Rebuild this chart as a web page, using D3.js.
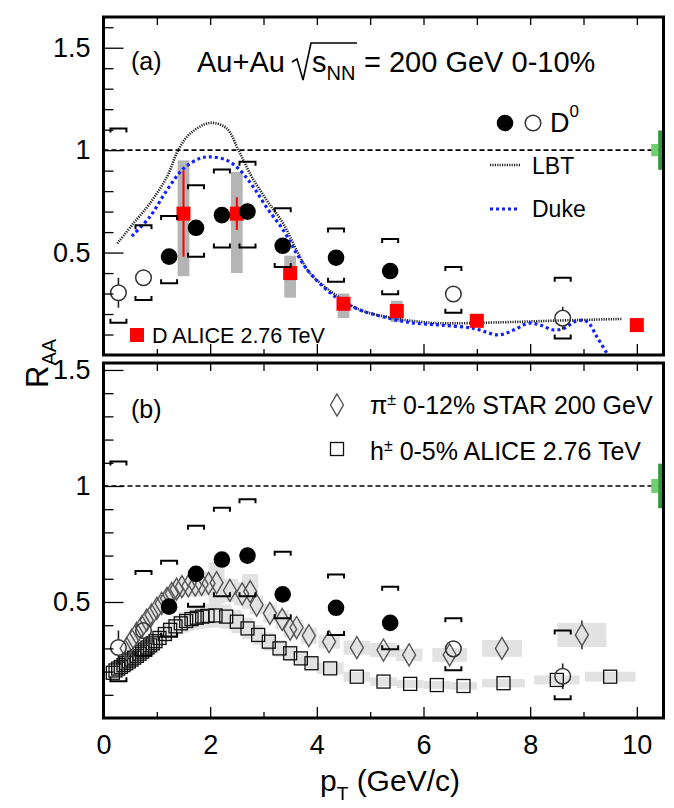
<!DOCTYPE html>
<html>
<head>
<meta charset="utf-8">
<script src="https://cdn.jsdelivr.net/npm/d3@7"></script>
<style>
  body { margin: 0; background: #fff; }
  text { font-family: "Liberation Sans", Arial, sans-serif; fill: #000; }
</style>
</head>
<body>
<script>
// ---- data ----
// STAR D0, Au+Au 200 GeV 0-10%
var d0Pt    = [0.28, 0.75, 1.23, 1.735, 2.22, 2.70, 3.36, 4.36, 5.375, 6.56, 8.61];
var d0R     = [0.304, 0.377, 0.48, 0.621, 0.683, 0.70, 0.533, 0.475, 0.41, 0.298, 0.18];
var d0Stat  = [0.073, 0.02, 0.02, 0.02, 0.02, 0.02, 0.02, 0.02, 0.02, 0.03, 0.055];
var d0SysHi = [1.106, 0.634, 0.678, 0.829, 0.906, 0.943, 0.716, 0.618, 0.566, 0.43, 0.377];
var d0SysLo = [0.158, 0.268, 0.35, 0.48, 0.525, 0.525, 0.43, 0.358, 0.296, 0.206, 0.081];
var d0Open  = [true, true, false, false, false, false, false, false, false, true, true];

// ALICE D mesons 2.76 TeV
var aliceDPt    = [1.5, 2.5, 3.5, 4.5, 5.5, 7.0, 10.0];
var aliceDR     = [0.69, 0.69, 0.40, 0.25, 0.215, 0.167, 0.146];
var aliceDStat  = [0.21, 0.08, 0.03, 0.02, 0.02, 0.02, 0.02];
var aliceDSysLo = [0.385, 0.40, 0.28, 0.18, 0.16, 0.14, 0.125];
var aliceDSysHi = [0.95, 0.894, 0.485, 0.30, 0.265, 0.19, 0.165];

// model curves
var lbtPt  = [0.26, 0.56, 0.87, 1.19, 1.40, 1.62, 2.0, 2.31, 2.53, 2.78, 3.06, 3.37, 3.62, 3.87, 4.37, 4.81, 5.44, 5.94, 6.31, 7.5, 8.5, 9.72];
var lbtR   = [0.545, 0.642, 0.74, 0.87, 1.0, 1.08, 1.133, 1.106, 1.0, 0.87, 0.756, 0.642, 0.512, 0.40, 0.29, 0.22, 0.18, 0.162, 0.155, 0.16, 0.168, 0.176];
var dukePt = [0.53, 0.87, 1.19, 1.5, 1.81, 2.0, 2.31, 2.56, 2.81, 3.06, 3.37, 3.62, 3.87, 4.37, 4.81, 5.19, 5.5, 5.81, 6.31, 6.94, 7.41, 7.69, 7.97, 8.19, 8.44, 8.63, 8.88, 9.07, 9.25, 9.44];
var dukeR  = [0.58, 0.675, 0.805, 0.91, 0.96, 0.967, 0.951, 0.902, 0.82, 0.72, 0.61, 0.496, 0.40, 0.28, 0.22, 0.19, 0.17, 0.156, 0.146, 0.13, 0.098, 0.122, 0.155, 0.146, 0.122, 0.13, 0.167, 0.162, 0.089, 0.008];

// STAR pi+- 0-12%
var pionPt   = [0.435, 0.53, 0.62, 0.72, 0.81, 0.90, 1.0, 1.09, 1.19, 1.28, 1.37, 1.47, 1.59, 1.72, 1.84, 1.97, 2.12, 2.37, 2.6, 2.75, 2.87, 3.12, 3.35, 3.5, 3.62, 3.85, 4.23, 4.75, 5.25, 5.73, 6.49, 7.47, 8.97];
var pionR    = [0.30, 0.336, 0.365, 0.394, 0.422, 0.444, 0.473, 0.494, 0.516, 0.537, 0.555, 0.566, 0.569, 0.573, 0.576, 0.58, 0.583, 0.55, 0.535, 0.545, 0.487, 0.451, 0.425, 0.383, 0.39, 0.355, 0.329, 0.303, 0.293, 0.272, 0.272, 0.30, 0.358];
var pionStat = [0, 0, 0, 0, 0, 0, 0, 0, 0, 0, 0, 0, 0, 0, 0, 0, 0, 0, 0, 0, 0, 0, 0, 0, 0, 0, 0, 0, 0, 0, 0, 0.048, 0.062];
var pionSys  = [0.025, 0.027, 0.03, 0.03, 0.032, 0.034, 0.036, 0.038, 0.04, 0.04, 0.042, 0.045, 0.045, 0.05, 0.05, 0.05, 0.09, 0.05, 0.05, 0.075, 0.04, 0.04, 0.04, 0.035, 0.035, 0.035, 0.03, 0.03, 0.03, 0.027, 0.03, 0.036, 0.052];
var pionBinW = [0.1, 0.1, 0.1, 0.1, 0.1, 0.1, 0.1, 0.1, 0.1, 0.1, 0.1, 0.1, 0.1, 0.2, 0.2, 0.2, 0.3, 0.3, 0.3, 0.3, 0.25, 0.25, 0.25, 0.25, 0.25, 0.3, 0.4, 0.5, 0.5, 0.5, 0.65, 0.75, 0.92];

// ALICE h+- 0-5%
var hPt   = [0.175, 0.225, 0.275, 0.325, 0.375, 0.425, 0.475, 0.525, 0.575, 0.625, 0.675, 0.725, 0.775, 0.825, 0.875, 0.925, 0.975,
             1.05, 1.15, 1.25, 1.35, 1.45, 1.55, 1.65, 1.75, 1.85, 1.95,
             2.1, 2.3, 2.5, 2.7, 2.9, 3.1, 3.3, 3.5, 3.7, 3.9, 4.25, 4.75, 5.25, 5.75, 6.25, 6.75, 7.5, 8.5, 9.5];
var hR    = [0.195, 0.205, 0.213, 0.22, 0.228, 0.236, 0.244, 0.252, 0.26, 0.268, 0.277, 0.286, 0.295, 0.304, 0.313, 0.322, 0.331,
             0.345, 0.362, 0.38, 0.395, 0.408, 0.418, 0.426, 0.432, 0.437, 0.44,
             0.442, 0.437, 0.415, 0.386, 0.358, 0.329, 0.30, 0.279, 0.257, 0.236, 0.214, 0.178, 0.157, 0.147, 0.142, 0.138, 0.15, 0.164, 0.178];
var hBinW = [0.05, 0.05, 0.05, 0.05, 0.05, 0.05, 0.05, 0.05, 0.05, 0.05, 0.05, 0.05, 0.05, 0.05, 0.05, 0.05, 0.05,
             0.1, 0.1, 0.1, 0.1, 0.1, 0.1, 0.1, 0.1, 0.1, 0.1,
             0.2, 0.2, 0.2, 0.2, 0.2, 0.2, 0.2, 0.2, 0.2, 0.2, 0.5, 0.5, 0.5, 0.5, 0.5, 0.5, 0.8, 0.85, 0.95];
var hSysFrac = 0.12;

// normalisation uncertainty boxes at R=1 (dark, light)
var normUnc = [0.096, 0.03];

var xTicksMajor = [0, 2, 4, 6, 8, 10];
var xTicksMinor = [1, 3, 5, 7, 9];
var yTicksMajor = [0.5, 1, 1.5];

// ---- scales ----
var width = 674, height = 808;
var x  = d3.scaleLinear().domain([0, 10.5]).range([103.5, 663.5]);
var yA = d3.scaleLinear().domain([0, 1.65]).range([355, 17]);
var yB = d3.scaleLinear().domain([0, 1.53]).range([718, 363]);

var svg = d3.select("body").append("svg")
    .attr("width", width)
    .attr("height", height);

var defs = svg.append("defs");

function clipFor(id, y) {
  defs.append("clipPath").attr("id", id).append("rect")
      .attr("x", x(0)).attr("y", y.range()[1])
      .attr("width", x(10.5) - x(0)).attr("height", y.range()[0] - y.range()[1]);
}
clipFor("clipA", yA);
clipFor("clipB", yB);

// axes for one panel
function drawAxes(y, labelsX) {
  var ymax = y.domain()[1];
  var minorY = d3.range(1, Math.floor(ymax * 10) + 1).map(d => d / 10)
      .filter(d => yTicksMajor.indexOf(Math.round(d * 10) / 10) < 0);

  var ga = svg.append("g").attr("transform", "translate(" + x(0) + ",0)");
  ga.call(d3.axisLeft(y).tickValues(minorY).tickSizeInner(-10).tickSizeOuter(0).tickFormat(""));
  var gm = svg.append("g").attr("transform", "translate(" + x(0) + ",0)");
  gm.call(d3.axisLeft(y).tickValues(yTicksMajor).tickSizeInner(-20).tickSizeOuter(0).tickPadding(13).tickFormat(d => String(d)));

  // top ticks
  var gt = svg.append("g").attr("transform", "translate(0," + y.range()[1] + ")");
  gt.call(d3.axisTop(x).tickValues(xTicksMajor.concat(xTicksMinor)).tickSizeInner(-8).tickSizeOuter(0).tickFormat(""));

  // bottom ticks
  var gb = svg.append("g").attr("transform", "translate(0," + y.range()[0] + ")");
  gb.call(d3.axisBottom(x).tickValues(xTicksMinor).tickSizeInner(-6).tickSizeOuter(0).tickFormat(""));
  var gb2 = svg.append("g").attr("transform", "translate(0," + y.range()[0] + ")");
  gb2.call(d3.axisBottom(x).tickValues(xTicksMajor.slice(1)).tickSizeInner(-11).tickSizeOuter(0)
      .tickPadding(17).tickFormat(labelsX ? d => String(d) : ""));
  if (labelsX) {
    svg.append("g").attr("transform", "translate(0," + y.range()[0] + ")")
      .call(d3.axisBottom(x).tickValues([0]).tickSize(0).tickPadding(17).tickFormat(d => String(d)));
  }

  svg.selectAll(".domain").remove();
  svg.selectAll(".tick line").attr("stroke", "#000").attr("stroke-width", 1.3);
  svg.selectAll(".tick text").style("font-size", "27px").attr("font-family", null);
}

function normBoxes(y) {
  svg.append("rect")
      .attr("x", x(10.4)).attr("width", x(10.5) - x(10.4))
      .attr("y", y(1 + normUnc[0])).attr("height", y(1 - normUnc[0]) - y(1 + normUnc[0]))
      .attr("fill", "#2e9a35");
  svg.append("rect")
      .attr("x", x(10.27)).attr("width", x(10.4) - x(10.27))
      .attr("y", y(1 + normUnc[1])).attr("height", y(1 - normUnc[1]) - y(1 + normUnc[1]))
      .attr("fill", "#6fd06f");
}

function unityLine(g, y) {
  g.append("line")
      .attr("x1", x(0)).attr("x2", x(10.5))
      .attr("y1", y(1)).attr("y2", y(1))
      .attr("stroke", "#000").attr("stroke-width", 1.6)
      .attr("stroke-dasharray", "5,3");
}

// vertical error bar drawn only outside the marker
function errPath(cx, yHi, yMid, yLo, r) {
  var p = "";
  if (yMid - r > yHi) p += "M" + cx + "," + yHi + "V" + (yMid - r);
  if (yMid + r < yLo) p += "M" + cx + "," + (yMid + r) + "V" + yLo;
  return p;
}

// D0 points with brackets
function drawD0(g, y) {
  var idx = d3.range(d0Pt.length);
  var bw = 8, leg = 4;
  g.selectAll(null).data(idx).enter().append("path")
      .attr("d", i => {
        var cx = x(d0Pt[i]), hi = y(d0SysHi[i]), lo = y(d0SysLo[i]);
        return "M" + (cx - bw) + "," + (hi + leg) + "V" + hi + "H" + (cx + bw) + "V" + (hi + leg) +
               "M" + (cx - bw) + "," + (lo - leg) + "V" + lo + "H" + (cx + bw) + "V" + (lo - leg);
      })
      .attr("fill", "none").attr("stroke", "#000").attr("stroke-width", 2);
  g.selectAll(null).data(idx).enter().append("path")
      .attr("d", i => errPath(x(d0Pt[i]), y(d0R[i] + d0Stat[i]), y(d0R[i]), y(d0R[i] - d0Stat[i]), 8))
      .attr("fill", "none").attr("stroke", "#222").attr("stroke-width", 1.6);
  g.selectAll(null).data(idx).enter().append("circle")
      .attr("cx", i => x(d0Pt[i])).attr("cy", i => y(d0R[i]))
      .attr("r", i => d0Open[i] ? 7.8 : 8.3)
      .attr("fill", i => d0Open[i] ? "none" : "#000")
      .attr("stroke", i => d0Open[i] ? "#333" : "none")
      .attr("stroke-width", 1.5);
}

// ================= panel (a) =================
var gA = svg.append("g").attr("clip-path", "url(#clipA)");
var aIdx = d3.range(aliceDPt.length);

gA.selectAll(null).data(aIdx).enter().append("rect")
    .attr("x", i => x(aliceDPt[i] - 0.11)).attr("width", x(0.22) - x(0))
    .attr("y", i => yA(aliceDSysHi[i])).attr("height", i => yA(aliceDSysLo[i]) - yA(aliceDSysHi[i]))
    .attr("fill", "#b5b5b5");

unityLine(gA, yA);

var lineA = d3.line().curve(d3.curveCatmullRom).x(d => x(d[0])).y(d => yA(d[1]));
gA.append("path").datum(d3.zip(lbtPt, lbtR)).attr("d", lineA)
    .attr("fill", "none").attr("stroke", "#222").attr("stroke-width", 2.6).attr("stroke-dasharray", "1.2,1.2");
gA.append("path").datum(d3.zip(dukePt, dukeR)).attr("d", lineA)
    .attr("fill", "none").attr("stroke", "#1020ff").attr("stroke-width", 3.2).attr("stroke-dasharray", "3,3");

gA.selectAll(null).data(aIdx).enter().append("line")
    .attr("x1", i => x(aliceDPt[i])).attr("x2", i => x(aliceDPt[i]))
    .attr("y1", i => yA(aliceDR[i] + aliceDStat[i])).attr("y2", i => yA(aliceDR[i] - aliceDStat[i]))
    .attr("stroke", "#ff0000").attr("stroke-width", 2);
gA.selectAll(null).data(aIdx).enter().append("rect")
    .attr("x", i => x(aliceDPt[i]) - 7).attr("y", i => yA(aliceDR[i]) - 7)
    .attr("width", 14).attr("height", 14)
    .attr("fill", "#ff0000");

drawD0(gA, yA);
normBoxes(yA);

// title
svg.append("text").attr("x", 131).attr("y", 70).style("font-size", "25px").text("(a)");
svg.append("text").attr("x", 197).attr("y", 72).style("font-size", "29px").text("Au+Au");
svg.append("path").attr("d", "M292,62 L297,59 L303,80 L311,43 L357,43")
    .attr("fill", "none").attr("stroke", "#000").attr("stroke-width", 1.6);
var sT = svg.append("text").attr("x", 312).attr("y", 72).style("font-size", "29px");
sT.append("tspan").text("s");
sT.append("tspan").attr("dy", 8).style("font-size", "20px").text("NN");
svg.append("text").attr("x", 364).attr("y", 72).style("font-size", "29px").text("= 200 GeV 0-10%");

// legend (a)
svg.append("circle").attr("cx", 505).attr("cy", 123).attr("r", 8.3).attr("fill", "#000");
svg.append("circle").attr("cx", 533).attr("cy", 123).attr("r", 7.8).attr("fill", "none").attr("stroke", "#333").attr("stroke-width", 1.5);
var dT = svg.append("text").attr("x", 550).attr("y", 132).style("font-size", "27px");
dT.append("tspan").text("D");
dT.append("tspan").attr("dy", -15).style("font-size", "17px").text("0");

svg.append("line").attr("x1", 490).attr("x2", 520).attr("y1", 165).attr("y2", 165)
    .attr("stroke", "#222").attr("stroke-width", 2.6).attr("stroke-dasharray", "1.2,1.2");
svg.append("text").attr("x", 532).attr("y", 174).style("font-size", "23px").text("LBT");
svg.append("line").attr("x1", 490).attr("x2", 520).attr("y1", 209).attr("y2", 209)
    .attr("stroke", "#1020ff").attr("stroke-width", 3.2).attr("stroke-dasharray", "3,3");
svg.append("text").attr("x", 532).attr("y", 217).style("font-size", "23px").text("Duke");

svg.append("rect").attr("x", 130).attr("y", 328).attr("width", 14).attr("height", 14).attr("fill", "#ff0000");
svg.append("text").attr("x", 152).attr("y", 343).style("font-size", "21.5px").text("D ALICE 2.76 TeV");

drawAxes(yA, false);

// ================= panel (b) =================
var gB = svg.append("g").attr("clip-path", "url(#clipB)");
var hIdx = d3.range(hPt.length);
var pIdx = d3.range(pionPt.length);

gB.selectAll(null).data(hIdx).enter().append("rect")
    .attr("x", i => x(hPt[i] - hBinW[i] / 2)).attr("width", i => x(hBinW[i]) - x(0))
    .attr("y", i => yB(hR[i] * (1 + hSysFrac))).attr("height", i => yB(hR[i] * (1 - hSysFrac)) - yB(hR[i] * (1 + hSysFrac)))
    .attr("fill", "#e2e2e2");
gB.selectAll(null).data(pIdx).enter().append("rect")
    .attr("x", i => x(pionPt[i] - pionBinW[i] / 2)).attr("width", i => x(pionBinW[i]) - x(0))
    .attr("y", i => yB(pionR[i] + pionSys[i])).attr("height", i => yB(pionR[i] - pionSys[i]) - yB(pionR[i] + pionSys[i]))
    .attr("fill", "#e2e2e2");

unityLine(gB, yB);

gB.selectAll(null).data(hIdx).enter().append("rect")
    .attr("x", i => x(hPt[i]) - 6.5).attr("y", i => yB(hR[i]) - 6.5)
    .attr("width", 13).attr("height", 13)
    .attr("fill", "none").attr("stroke", "#111").attr("stroke-width", 1.3);

gB.selectAll(null).data(pIdx.filter(i => pionStat[i] > 0)).enter().append("path")
    .attr("d", i => errPath(x(pionPt[i]), yB(pionR[i] + pionStat[i]), yB(pionR[i]), yB(pionR[i] - pionStat[i]), 11))
    .attr("fill", "none").attr("stroke", "#333").attr("stroke-width", 1.6);
var diamond = "M0,-11L6.5,0L0,11L-6.5,0Z";
gB.selectAll(null).data(pIdx).enter().append("path")
    .attr("d", diamond)
    .attr("transform", i => "translate(" + x(pionPt[i]) + "," + yB(pionR[i]) + ")")
    .attr("fill", "none").attr("stroke", "#555").attr("stroke-width", 1.4);

drawD0(gB, yB);
normBoxes(yB);

svg.append("text").attr("x", 131).attr("y", 418).style("font-size", "25px").text("(b)");
svg.append("path").attr("d", diamond).attr("transform", "translate(337,405)")
    .attr("fill", "none").attr("stroke", "#555").attr("stroke-width", 1.4);
var piT = svg.append("text").attr("x", 370).attr("y", 414).style("font-size", "25px");
piT.append("tspan").text("\u03c0");
piT.append("tspan").attr("dy", -9).style("font-size", "16px").text("\u00b1");
piT.append("tspan").attr("dy", 9).text(" 0-12% STAR 200 GeV");

svg.append("rect").attr("x", 330.5).attr("y", 442.5).attr("width", 13).attr("height", 13)
    .attr("fill", "none").attr("stroke", "#111").attr("stroke-width", 1.3);
var hT = svg.append("text").attr("x", 370).attr("y", 460).style("font-size", "25px");
hT.append("tspan").text("h");
hT.append("tspan").attr("dy", -9).style("font-size", "16px").text("\u00b1");
hT.append("tspan").attr("dy", 9).text(" 0-5% ALICE 2.76 TeV");

drawAxes(yB, true);

// frames
[yA, yB].forEach(function(y) {
  svg.append("rect")
      .attr("x", x(0)).attr("y", y.range()[1])
      .attr("width", x(10.5) - x(0)).attr("height", y.range()[0] - y.range()[1])
      .attr("fill", "none").attr("stroke", "#000").attr("stroke-width", 3);
});

// axis titles
var xt = svg.append("text").attr("x", 390).attr("y", 791).attr("text-anchor", "middle").style("font-size", "30px");
xt.append("tspan").text("p");
xt.append("tspan").attr("dy", 9).style("font-size", "19px").text("T");
xt.append("tspan").attr("dy", -9).text(" (GeV/c)");

var yt = svg.append("text").attr("transform", "translate(48,388) rotate(-90)").style("font-size", "31px");
yt.append("tspan").text("R");
yt.append("tspan").attr("dy", 8).style("font-size", "20px").text("AA");
</script>
</body>
</html>
